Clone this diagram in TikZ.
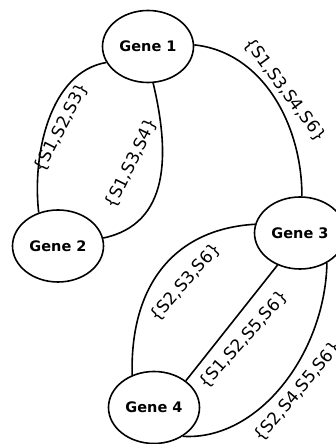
\documentclass[tikz,border=0pt]{standalone}
\usepackage{fontspec}
\setmainfont{DejaVu Sans}
\usetikzlibrary{shapes.geometric}

\begin{document}
\begin{tikzpicture}[x=1pt, y=1pt,
    gene/.style={draw, ellipse, line width=1.6pt, minimum width=91pt, minimum height=72pt, inner sep=0pt, font=\fontsize{14.5}{16}\selectfont\bfseries},
    sampleset/.style={inner sep=0pt, font=\fontsize{17}{19}\selectfont},
    link/.style={line width=1.6pt}]
        \useasboundingbox (0,0) rectangle (336,444);

        \node[gene] (gene1) at (148,397.5) {Gene 1};
        \node[gene] (gene2) at (58,198) {Gene 2};
        \node[gene] (gene3) at (300,211) {Gene 3};
        \node[gene] (gene4) at (154,36.5) {Gene 4};

        \draw[link] (gene1.201) .. controls (50,372) and (32,290) .. (gene2.120);
        \draw[link] (gene1.278) .. controls (170,290) and (170,220) .. (gene2.10);
        \draw[link] (gene1.2) .. controls (262,392) and (302,320) .. (gene3.87);
        \draw[link] (gene3.169) .. controls (175,215) and (130,160) .. (gene4.124);
        \draw[link] (gene3.235) -- (gene4.40);
        \draw[link] (gene3.312) .. controls (325,90) and (258,3) .. (gene4.315);

        \node[sampleset, rotate=63] (set12a) at (61.5,316.5) {\{S1,S2,S3\}};
        \node[sampleset, rotate=64] (set12b) at (131.5,280.5) {\{S1,S3,S4\}};
        \node[sampleset, rotate=-53.5] (set13) at (285,354) {\{S1,S3,S4,S6\}};
        \node[sampleset, rotate=49] (set34a) at (185.5,161.5) {\{S2,S3,S6\}};
        \node[sampleset, rotate=48.5] (set34b) at (243.5,104) {\{S1,S2,S5,S6\}};
        \node[sampleset, rotate=50] (set34c) at (298,52) {\{S2,S4,S5,S6\}};
\end{tikzpicture}
\end{document}
